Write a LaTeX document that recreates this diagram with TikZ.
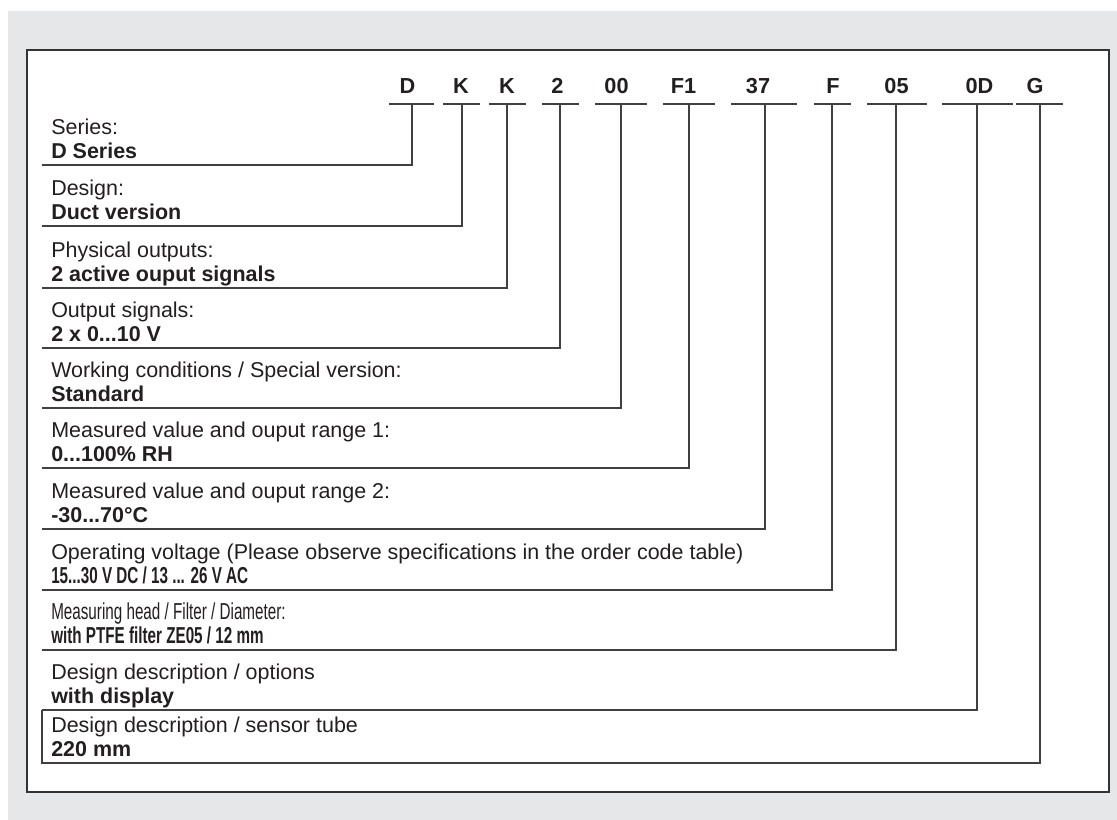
\documentclass[tikz,border=0pt]{standalone}
\usepackage{fontspec}
\usepackage{graphicx}
\setmainfont{Liberation Sans}
\newcommand{\squeeze}[1]{\scalebox{0.66}[1]{#1}}
\definecolor{panelgray}{RGB}{230,231,232}
\definecolor{inkdark}{RGB}{35,31,32}
\tikzset{
  code/.style={font=\fontsize{16.3}{18}\selectfont\bfseries,anchor=base,inner sep=0pt,text=inkdark},
  lbl/.style={font=\fontsize{16.1}{18}\selectfont,anchor=base west,inner sep=0pt,text=inkdark},
  val/.style={lbl,font=\fontsize{16.1}{18}\selectfont\bfseries},
  narrow/.style={font=\fontsize{17.3}{18}\selectfont},
  uline/.style={draw=black!75,line width=1pt},
  conn/.style={draw=black!75,line width=1pt},
}

\begin{document}
\begin{tikzpicture}[x=0.75pt,y=0.75pt]
\useasboundingbox (0,0) rectangle (1117,820);
% panel and frame
\fill[panelgray] (8,809) rectangle (1117,0);
\draw[fill=white,draw=black!80,line width=1.1pt] (27,770) rectangle (1109,28);
% order code letters with their underlines
\foreach \n/\t/\tx/\ux/\a/\b in {Series/D/407.5/412/389/434, Design/K/461/462/443/480,
    Outputs/K/507/507/489/526, Signals/2/557.5/560/542/579, Working/00/616.5/621/595/647,
    RangeA/F1/683.5/689/663/715, RangeB/37/758/765/731/797, Voltage/F/833/832/814/851,
    Head/05/896.5/896/867/927, Options/0D/979.5/977/942/1013, Tube/G/1035/1040/1016/1063}
  {\node[code] (c\n) at (\tx,726) {\t};
   \draw[uline] (\a,716) -- (\b,716);
   \coordinate (u\n) at (\ux,716);}
% left ends of the row lines
\coordinate (eSeries) at (42,655);
\coordinate (eDesign) at (42,594);
\coordinate (eOutputs) at (42,532);
\coordinate (eSignals) at (42,472);
\coordinate (eWorking) at (42,412);
\coordinate (eRangeA) at (42,352);
\coordinate (eRangeB) at (42,291);
\coordinate (eVoltage) at (42,230);
\coordinate (eHead) at (42,170);
\coordinate (eOptions) at (42,110);
\coordinate (eTube) at (42,57);
% row texts
\node[lbl] (lSeries) at (51,685) {Series:};
\node[val] (vSeries) at (51,661) {D Series};
\node[lbl] (lDesign) at (51,624) {Design:};
\node[val] (vDesign) at (51,600) {Duct version};
\node[lbl] (lOutputs) at (51,562) {Physical outputs:};
\node[val] (vOutputs) at (51,538) {2 active ouput signals};
\node[lbl] (lSignals) at (51,502) {Output signals:};
\node[val] (vSignals) at (51,478) {2 x 0...10 V};
\node[lbl] (lWorking) at (51,442) {Working conditions / Special version:};
\node[val] (vWorking) at (51,418) {Standard};
\node[lbl] (lRangeA) at (51,382) {Measured value and ouput range 1:};
\node[val] (vRangeA) at (51,358) {0...100\% RH};
\node[lbl] (lRangeB) at (51,321) {Measured value and ouput range 2:};
\node[val] (vRangeB) at (51,297) {-30...70°C};
\node[lbl] (lVoltage) at (51,260) {Operating voltage (Please observe specifications in the order code table)};
\node[val,narrow] (vVoltage) at (51,236) {\squeeze{\bfseries 15...30 V DC / 13 ... 26 V AC}};
\node[lbl,narrow] (lHead) at (51,200) {\squeeze{Measuring head / Filter / Diameter:}};
\node[val,narrow] (vHead) at (51,176) {\squeeze{\bfseries with PTFE filter ZE05 / 12 mm}};
\node[lbl] (lOptions) at (51,140) {Design description / options};
\node[val] (vOptions) at (51,116) {with display};
\node[lbl] (lTube) at (51,87) {Design description / sensor tube};
\node[val] (vTube) at (51,63) {220 mm};
% connectors
\foreach \n in {Series,Design,Outputs,Signals,Working,RangeA,RangeB,Voltage,Head,Options}
  \draw[conn] (u\n) |- (e\n);
\draw[conn] (uTube) |- (eTube) -- (eOptions);
\end{tikzpicture}
\end{document}
